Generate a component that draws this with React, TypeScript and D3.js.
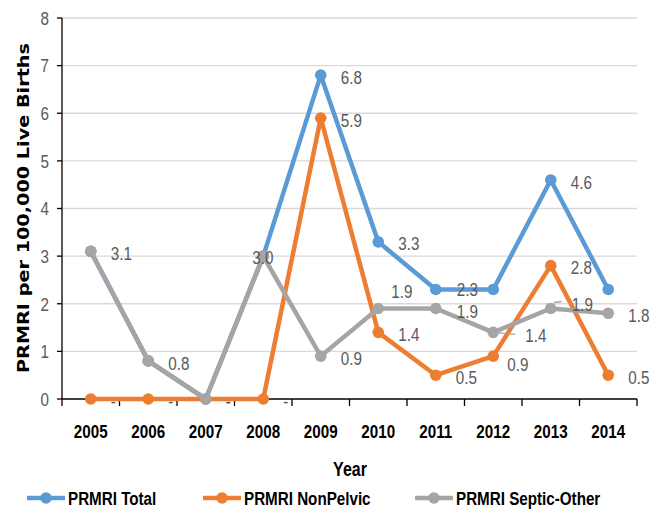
import React from "react";
import * as d3 from "d3";

const years = ["2005", "2006", "2007", "2008", "2009", "2010", "2011", "2012", "2013", "2014"];
const totalValues = [3.1, 0.8, 0, 3.0, 6.8, 3.3, 2.3, 2.3, 4.6, 2.3];
const nonPelvicValues = [0, 0, 0, 0, 5.9, 1.4, 0.5, 0.9, 2.8, 0.5];
const septicValues = [3.1, 0.8, 0, 3.0, 0.9, 1.9, 1.9, 1.4, 1.9, 1.8];
const yTicks = [0, 1, 2, 3, 4, 5, 6, 7, 8];
const seriesNames = ["PRMRI Total", "PRMRI NonPelvic", "PRMRI Septic-Other"];

// which data labels are shown per series
const totalLabelShown = [false, false, false, false, true, true, true, false, true, false];
const nonPelvicLabelShown = [true, true, true, true, true, true, true, true, true, true];
const septicLabelShown = [true, true, true, true, true, true, true, true, true, true];

const colors = ["#5B9BD5", "#ED7D31", "#A5A5A5"];
const FONT = "'Liberation Sans', Arial, sans-serif";
const SQUEEZE = 0.8;

// label offsets (style) : [dx, dy] relative to point
const labelOffsets: Record<string, [number, number]> = {
  "0-6": [21, 0],
  "1-7": [14, 8],
  "2-3": [-11, 1],
  "2-5": [13, -17],
  "2-6": [21, 3],
  "2-7": [32, 3],
  "2-8": [21, -4],
};

type NTProps = {
  x: number;
  y: number;
  size: number;
  bold?: boolean;
  anchor?: "start" | "middle" | "end";
  fill?: string;
  dy?: string;
  children: React.ReactNode;
};

function NText({ x, y, size, bold, anchor = "start", fill = "#000", dy, children }: NTProps) {
  return (
    <text
      transform={`translate(${x},${y}) scale(${SQUEEZE},1)`}
      x={0}
      y={0}
      dy={dy}
      textAnchor={anchor}
      fontFamily={FONT}
      fontWeight={bold ? "bold" : "normal"}
      fontSize={size}
      fill={fill}
    >
      {children}
    </text>
  );
}

export default function App() {
  const width = 660;
  const height = 510;
  const x = d3.scaleBand<string>().domain(years).range([62, 637]).padding(0);
  const y = d3.scaleLinear().domain([0, 8]).range([399, 18]);
  const cx = (yr: string) => (x(yr) as number) + x.bandwidth() / 2;
  const line = d3
    .line<number>()
    .x((_, i) => cx(years[i]))
    .y((d) => y(d));

  const series = [totalValues, nonPelvicValues, septicValues];
  const shown = [totalLabelShown, nonPelvicLabelShown, septicLabelShown];
  const fmt = (v: number) => (v === 0 ? "-" : d3.format(".1f")(v));

  const legendX = [27, 203, 415];

  return (
    <svg width={width} height={height} style={{ position: "absolute", left: 0, top: 0 }}>
      <rect x={0} y={0} width={width} height={height} fill="#fff" />
      {/* gridlines */}
      {yTicks.map((t) =>
        t === 0 ? null : (
          <line key={"g" + t} x1={62} x2={637} y1={y(t)} y2={y(t)} stroke="#d9d9d9" strokeWidth={1.3} />
        )
      )}
      {/* y axis */}
      <line x1={62} x2={62} y1={y(8)} y2={y(0)} stroke="#000" strokeWidth={1.3} />
      {yTicks.map((t) => (
        <g key={"yt" + t}>
          <line x1={57} x2={62} y1={y(t)} y2={y(t)} stroke="#000" strokeWidth={1.3} />
          <NText x={49} y={y(t)} dy="0.36em" anchor="end" size={19} fill="#595959">
            {t}
          </NText>
        </g>
      ))}
      {/* x axis */}
      <line x1={62} x2={637} y1={y(0)} y2={y(0)} stroke="#000" strokeWidth={1.3} />
      {years.map((yr, i) => (
        <line
          key={"xt" + i}
          x1={(x(yr) as number) + x.bandwidth()}
          x2={(x(yr) as number) + x.bandwidth()}
          y1={399}
          y2={406}
          stroke="#000"
          strokeWidth={1.3}
        />
      ))}
      <line x1={62} x2={62} y1={399} y2={406} stroke="#000" strokeWidth={1.3} />
      {years.map((yr) => (
        <NText key={"xl" + yr} x={cx(yr)} y={438} anchor="middle" size={19} bold>
          {yr}
        </NText>
      ))}
      {/* axis titles */}
      <NText x={350} y={476} anchor="middle" size={20} bold>
        Year
      </NText>
      <text
        transform="translate(29,208) rotate(-90)"
        textAnchor="middle"
        fontFamily="'DejaVu Sans', Verdana, sans-serif"
        fontWeight="bold"
        fontSize={16.5}
        textLength={330}
        lengthAdjust="spacingAndGlyphs"
        fill="#000"
      >
        PRMRI per 100,000 Live Births
      </text>
      {/* series */}
      {series.map((vals, s) => (
        <g key={"s" + s}>
          <path d={line(vals) || ""} fill="none" stroke={colors[s]} strokeWidth={4.5} strokeLinejoin="round" />
          {vals.map((v, i) => (
            <circle key={i} cx={cx(years[i])} cy={y(v)} r={5.8} fill={colors[s]} />
          ))}
        </g>
      ))}
      {/* leader lines */}
      <line x1={cx("2012")} y1={y(1.4)} x2={cx("2012") + 22} y2={y(1.4) + 2} stroke="#A5A5A5" strokeWidth={1.3} />
      <line x1={cx("2013") + 3} y1={y(1.9) - 6} x2={cx("2013") + 11} y2={y(1.9) - 7} stroke="#A5A5A5" strokeWidth={1.3} />
      {/* data labels */}
      {series.map((vals, s) =>
        vals.map((v, i) => {
          if (!shown[s][i]) return null;
          const off = labelOffsets[s + "-" + i] || [20, 2];
          return (
            <NText
              key={"l" + s + "-" + i}
              x={cx(years[i]) + off[0]}
              y={y(v) + off[1]}
              dy="0.35em"
              size={19}
              fill="#595959"
            >
              {fmt(v)}
            </NText>
          );
        })
      )}
      {/* legend */}
      {seriesNames.map((name, s) => (
        <g key={"lg" + s}>
          <line x1={legendX[s]} x2={legendX[s] + 38} y1={498} y2={498} stroke={colors[s]} strokeWidth={4.5} />
          <circle cx={legendX[s] + 19} cy={498} r={5.8} fill={colors[s]} />
          <NText x={legendX[s] + 41} y={505} size={19} bold>
            {name}
          </NText>
        </g>
      ))}
    </svg>
  );
}
